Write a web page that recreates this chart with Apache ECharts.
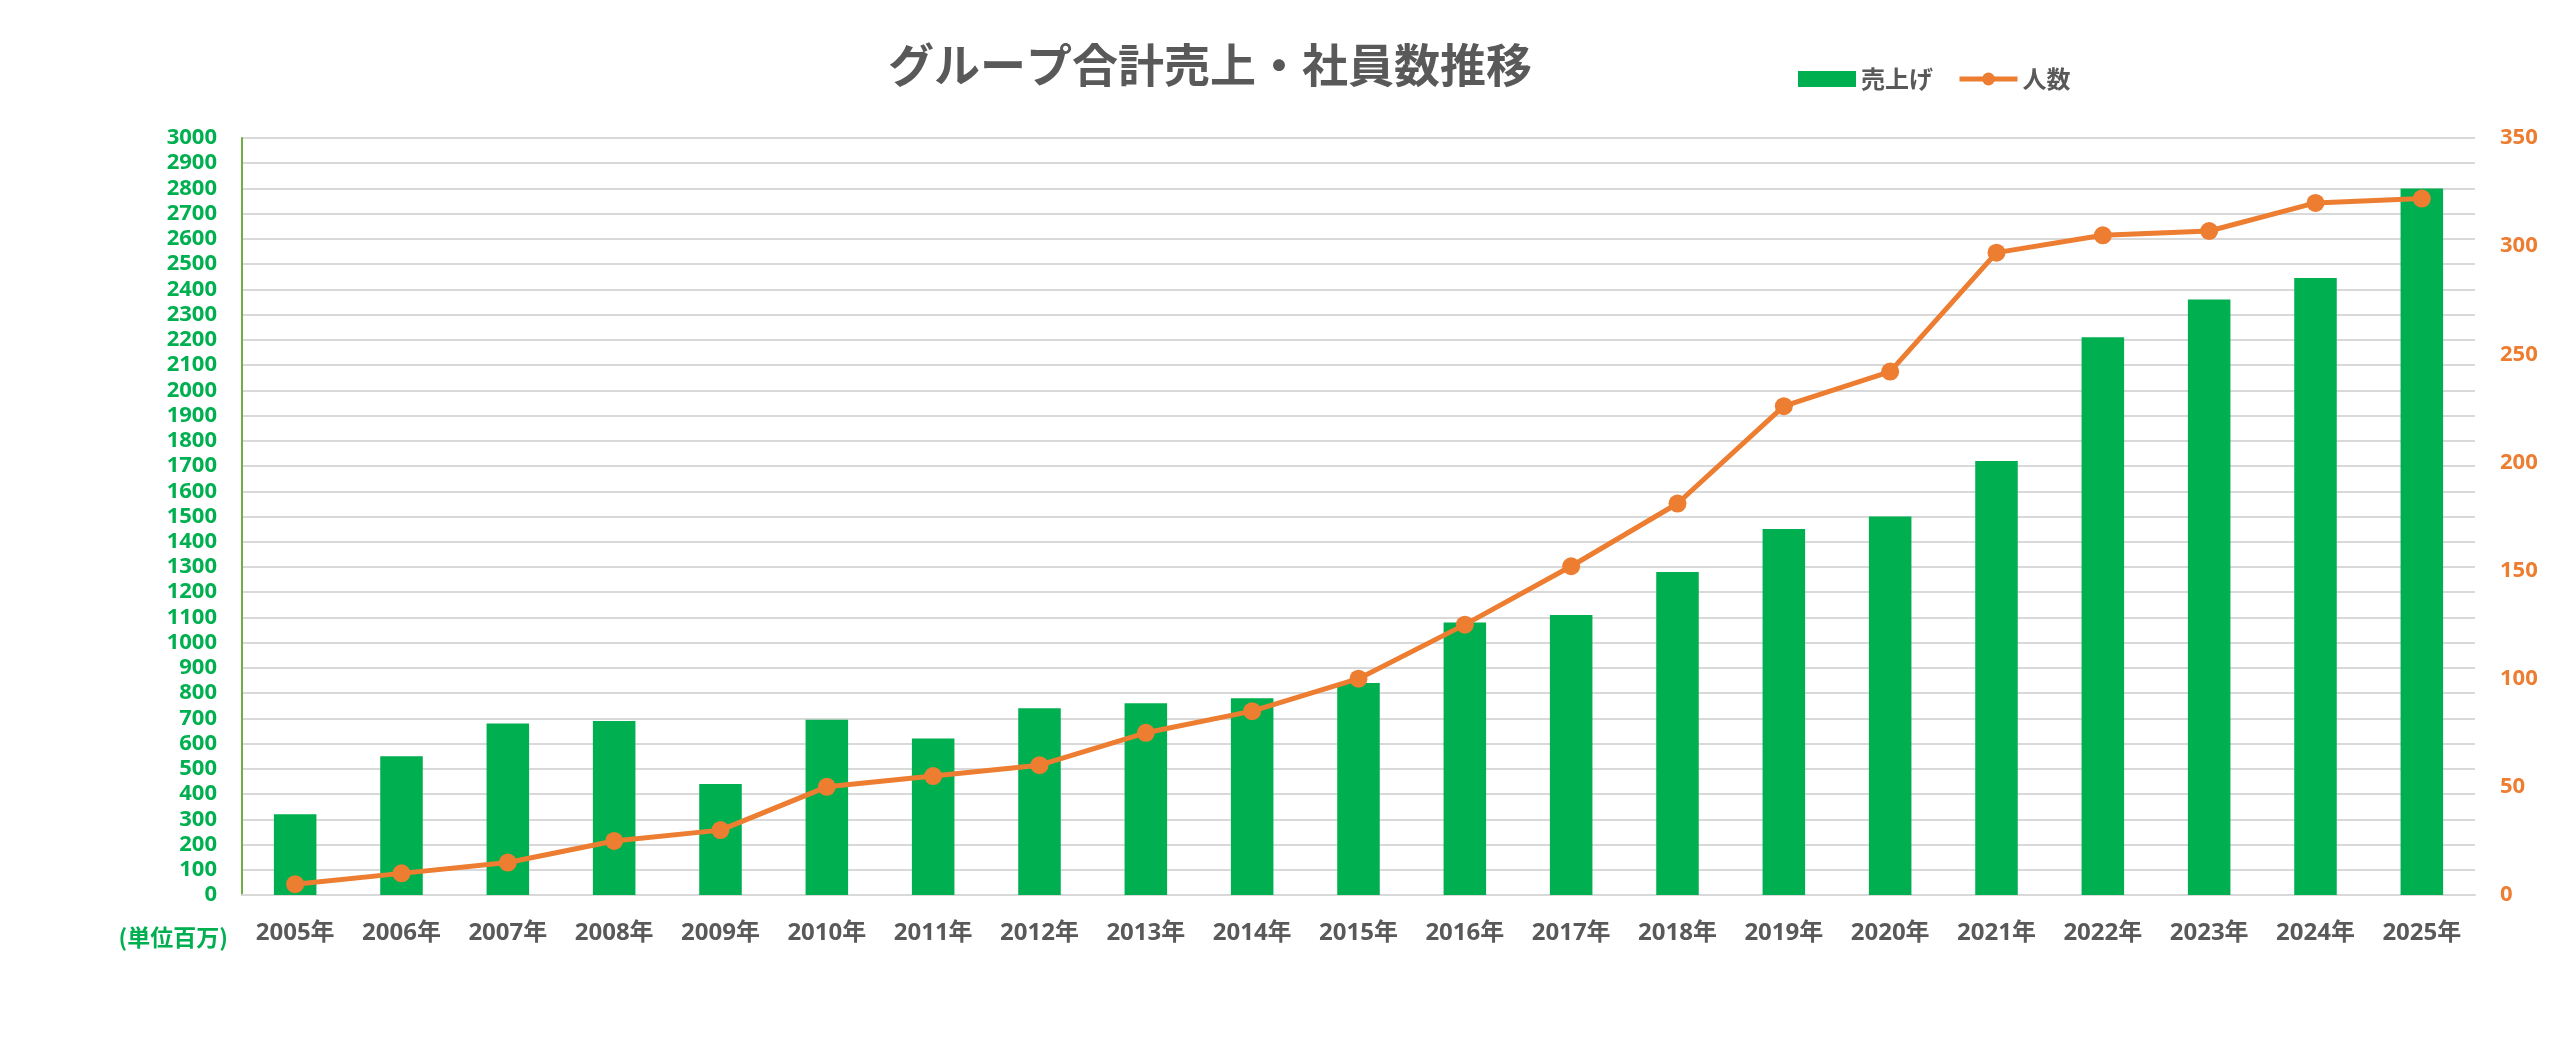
<!DOCTYPE html>
<html>

<head>
    <meta charset="UTF-8">
    <title>グループ合計売上・社員数推移</title>
    <script src="https://cdn.jsdelivr.net/npm/echarts@6/dist/echarts.min.js"></script>
    <style>
        html, body { margin: 0; padding: 0; background: #fff; }
    </style>
</head>

<body>
    <div id="main" style="width: 2560px; height: 1044px;"></div>

    <script>
        // 年度
        var years = ['2005年', '2006年', '2007年', '2008年', '2009年', '2010年', '2011年',
            '2012年', '2013年', '2014年', '2015年', '2016年', '2017年', '2018年',
            '2019年', '2020年', '2021年', '2022年', '2023年', '2024年', '2025年'];
        // 売上げ (単位百万)
        var sales = [320, 550, 680, 690, 440, 695, 620, 740, 760, 780, 840,
            1080, 1110, 1280, 1450, 1500, 1720, 2210, 2360, 2445, 2800];
        // 人数
        var staff = [5, 10, 15, 25, 30, 50, 55, 60, 75, 85, 100,
            125, 152, 181, 226, 242, 297, 305, 307, 320, 322];

        var font = '"Open Sans", "Noto Sans CJK JP", sans-serif';

        var myChart = echarts.init(document.getElementById('main'));

        // 桁区切りなしで表示
        function plain(v) {
            return String(v);
        }

        var option = {
            animation: false,
            title: {
                text: 'グループ合計売上・社員数推移',
                left: 888,
                top: 42,
                padding: 0,
                textStyle: {
                    fontFamily: '"Noto Sans CJK JP", sans-serif',
                    fontSize: 46,
                    fontWeight: 'bold',
                    color: '#595959'
                }
            },
            legend: {
                data: [
                    { name: '売上げ', icon: 'rect' },
                    { name: '人数' }
                ],
                left: 1798,
                top: 67,
                padding: 0,
                itemWidth: 58,
                itemHeight: 16,
                itemGap: 24,
                lineStyle: { width: 5 },
                textStyle: {
                    fontFamily: '"Noto Sans CJK JP", sans-serif',
                    fontSize: 24,
                    fontWeight: 'bold',
                    color: '#595959'
                }
            },
            grid: {
                left: 242,
                right: 85,
                top: 138,
                bottom: 149
            },
            xAxis: {
                type: 'category',
                data: years,
                axisLine: { lineStyle: { color: '#d9d9d9', width: 2 } },
                axisTick: { show: false },
                axisLabel: {
                    margin: 26,
                    fontFamily: font,
                    fontSize: 24,
                    fontWeight: 'bold',
                    color: '#595959'
                }
            },
            yAxis: [
                {
                    type: 'value',
                    min: 0,
                    max: 3000,
                    interval: 100,
                    name: '(単位百万)',
                    nameLocation: 'start',
                    nameGap: 42,
                    nameTextStyle: {
                        align: 'right',
                        verticalAlign: 'middle',
                        padding: [0, 14, 0, 0],
                        fontFamily: '"Noto Sans CJK JP", sans-serif',
                        fontSize: 23,
                        fontWeight: 'bold',
                        color: '#00B050'
                    },
                    axisLine: { show: true, lineStyle: { color: '#70AD47', width: 2 } },
                    axisTick: { show: false },
                    axisLabel: {
                        margin: 25,
                        formatter: plain,
                        fontFamily: font,
                        fontSize: 22,
                        fontWeight: 'bold',
                        color: '#00B050'
                    },
                    splitLine: { lineStyle: { color: '#d9d9d9', width: 2 } }
                },
                {
                    type: 'value',
                    min: 0,
                    max: 350,
                    interval: 50,
                    axisLine: { show: false },
                    axisTick: { show: false },
                    axisLabel: {
                        margin: 25,
                        formatter: plain,
                        fontFamily: font,
                        fontSize: 22,
                        fontWeight: 'bold',
                        color: '#ED7D31'
                    },
                    splitLine: { show: false }
                }
            ],
            series: [
                {
                    name: '売上げ',
                    type: 'bar',
                    data: sales,
                    barWidth: '40%',
                    itemStyle: { color: '#00B050' }
                },
                {
                    name: '人数',
                    type: 'line',
                    yAxisIndex: 1,
                    data: staff,
                    symbol: 'circle',
                    symbolSize: 18,
                    lineStyle: { color: '#ED7D31', width: 5 },
                    itemStyle: { color: '#ED7D31' }
                }
            ]
        };

        myChart.setOption(option);
    </script>
</body>

</html>
